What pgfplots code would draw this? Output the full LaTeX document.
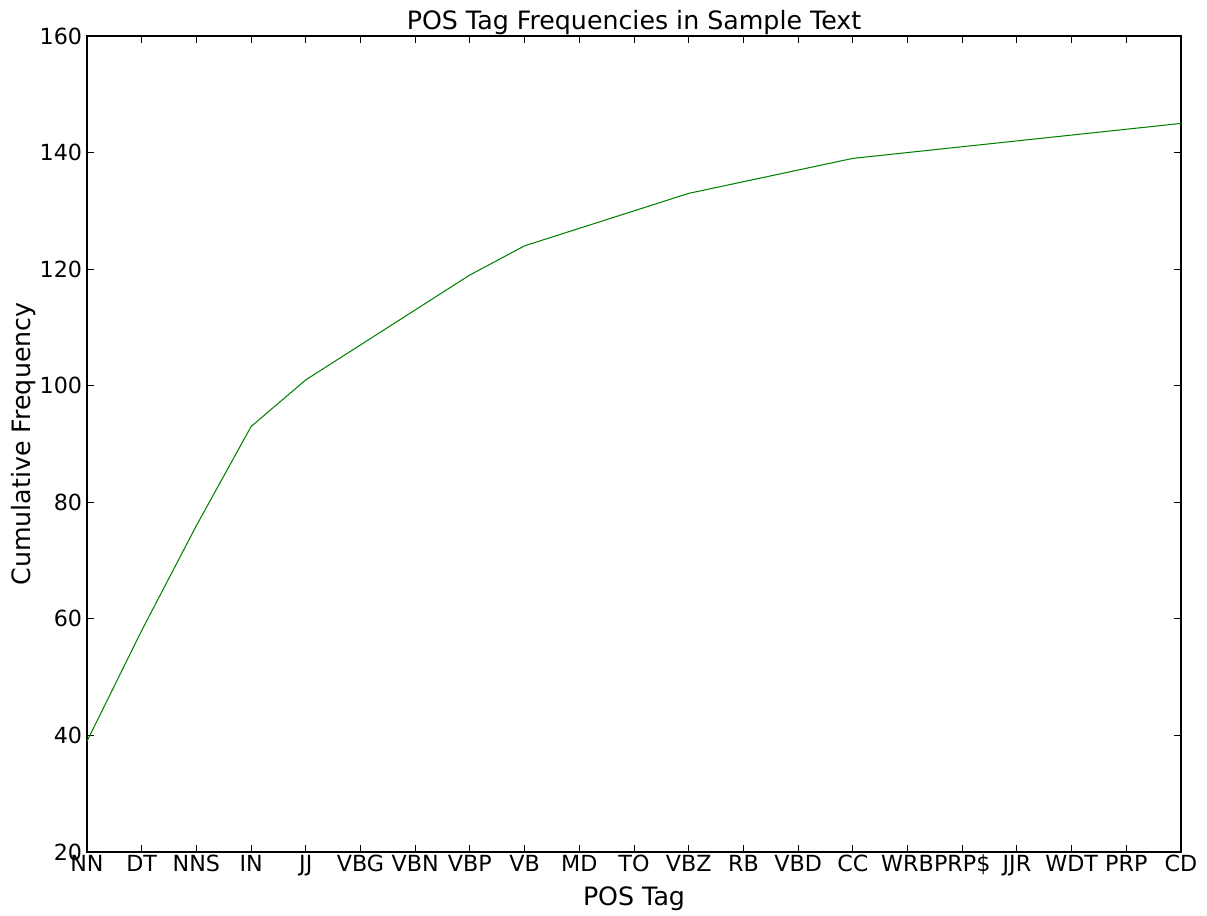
\documentclass[border=0pt]{standalone}
\usepackage{fontspec}
\setmainfont{DejaVu Sans}
\usepackage{pgfplots}
\pgfplotsset{compat=1.18}
\definecolor{mplgreen}{rgb}{0,0.5,0}
\begin{document}
\begin{tikzpicture}
\begin{axis}[
  scale only axis,
  width=787.68pt, height=587.52pt,
  xmin=0, xmax=20, ymin=20, ymax=160,
  xtick={0,...,20},
  xticklabels={NN,DT,NNS,IN,JJ,VBG,VBN,VBP,VB,MD,TO,VBZ,RB,VBD,CC,WRB,PRP\$,JJR,WDT,PRP,CD},
  ytick={20,40,...,160},
  tick align=inside,
  major tick length=5pt,
  tick style={black, line width=0.6pt},
  axis line style={line width=0.8pt},
  tick label style={font=\fontsize{16pt}{18pt}\selectfont},
  label style={font=\fontsize{18.2pt}{21pt}\selectfont},
  title style={font=\fontsize{18.2pt}{21pt}\selectfont, yshift=-8.5pt},
  /pgf/number format/assume math mode=true,
  title={POS Tag Frequencies in Sample Text},
  xlabel={POS Tag},
  ylabel={Cumulative Frequency},
  xlabel style={yshift=0pt},
  ylabel style={yshift=-4pt},
  xticklabel style={text height=11.7pt, text depth=3.8pt, yshift=1pt},
]
\addplot[mplgreen, line width=0.75pt] coordinates {
(0,39) (1,58) (2,76) (3,93) (4,101) (5,107) (6,113) (7,119) (8,124) (9,127) (10,130)
(11,133) (12,135) (13,137) (14,139) (15,140) (16,141) (17,142) (18,143) (19,144) (20,145)
};
\end{axis}
\path[use as bounding box] ([shift={(-62.64pt,-41.76pt)}]current axis.south west) rectangle ([shift={(18.72pt,25.92pt)}]current axis.north east);
\end{tikzpicture}
\end{document}
